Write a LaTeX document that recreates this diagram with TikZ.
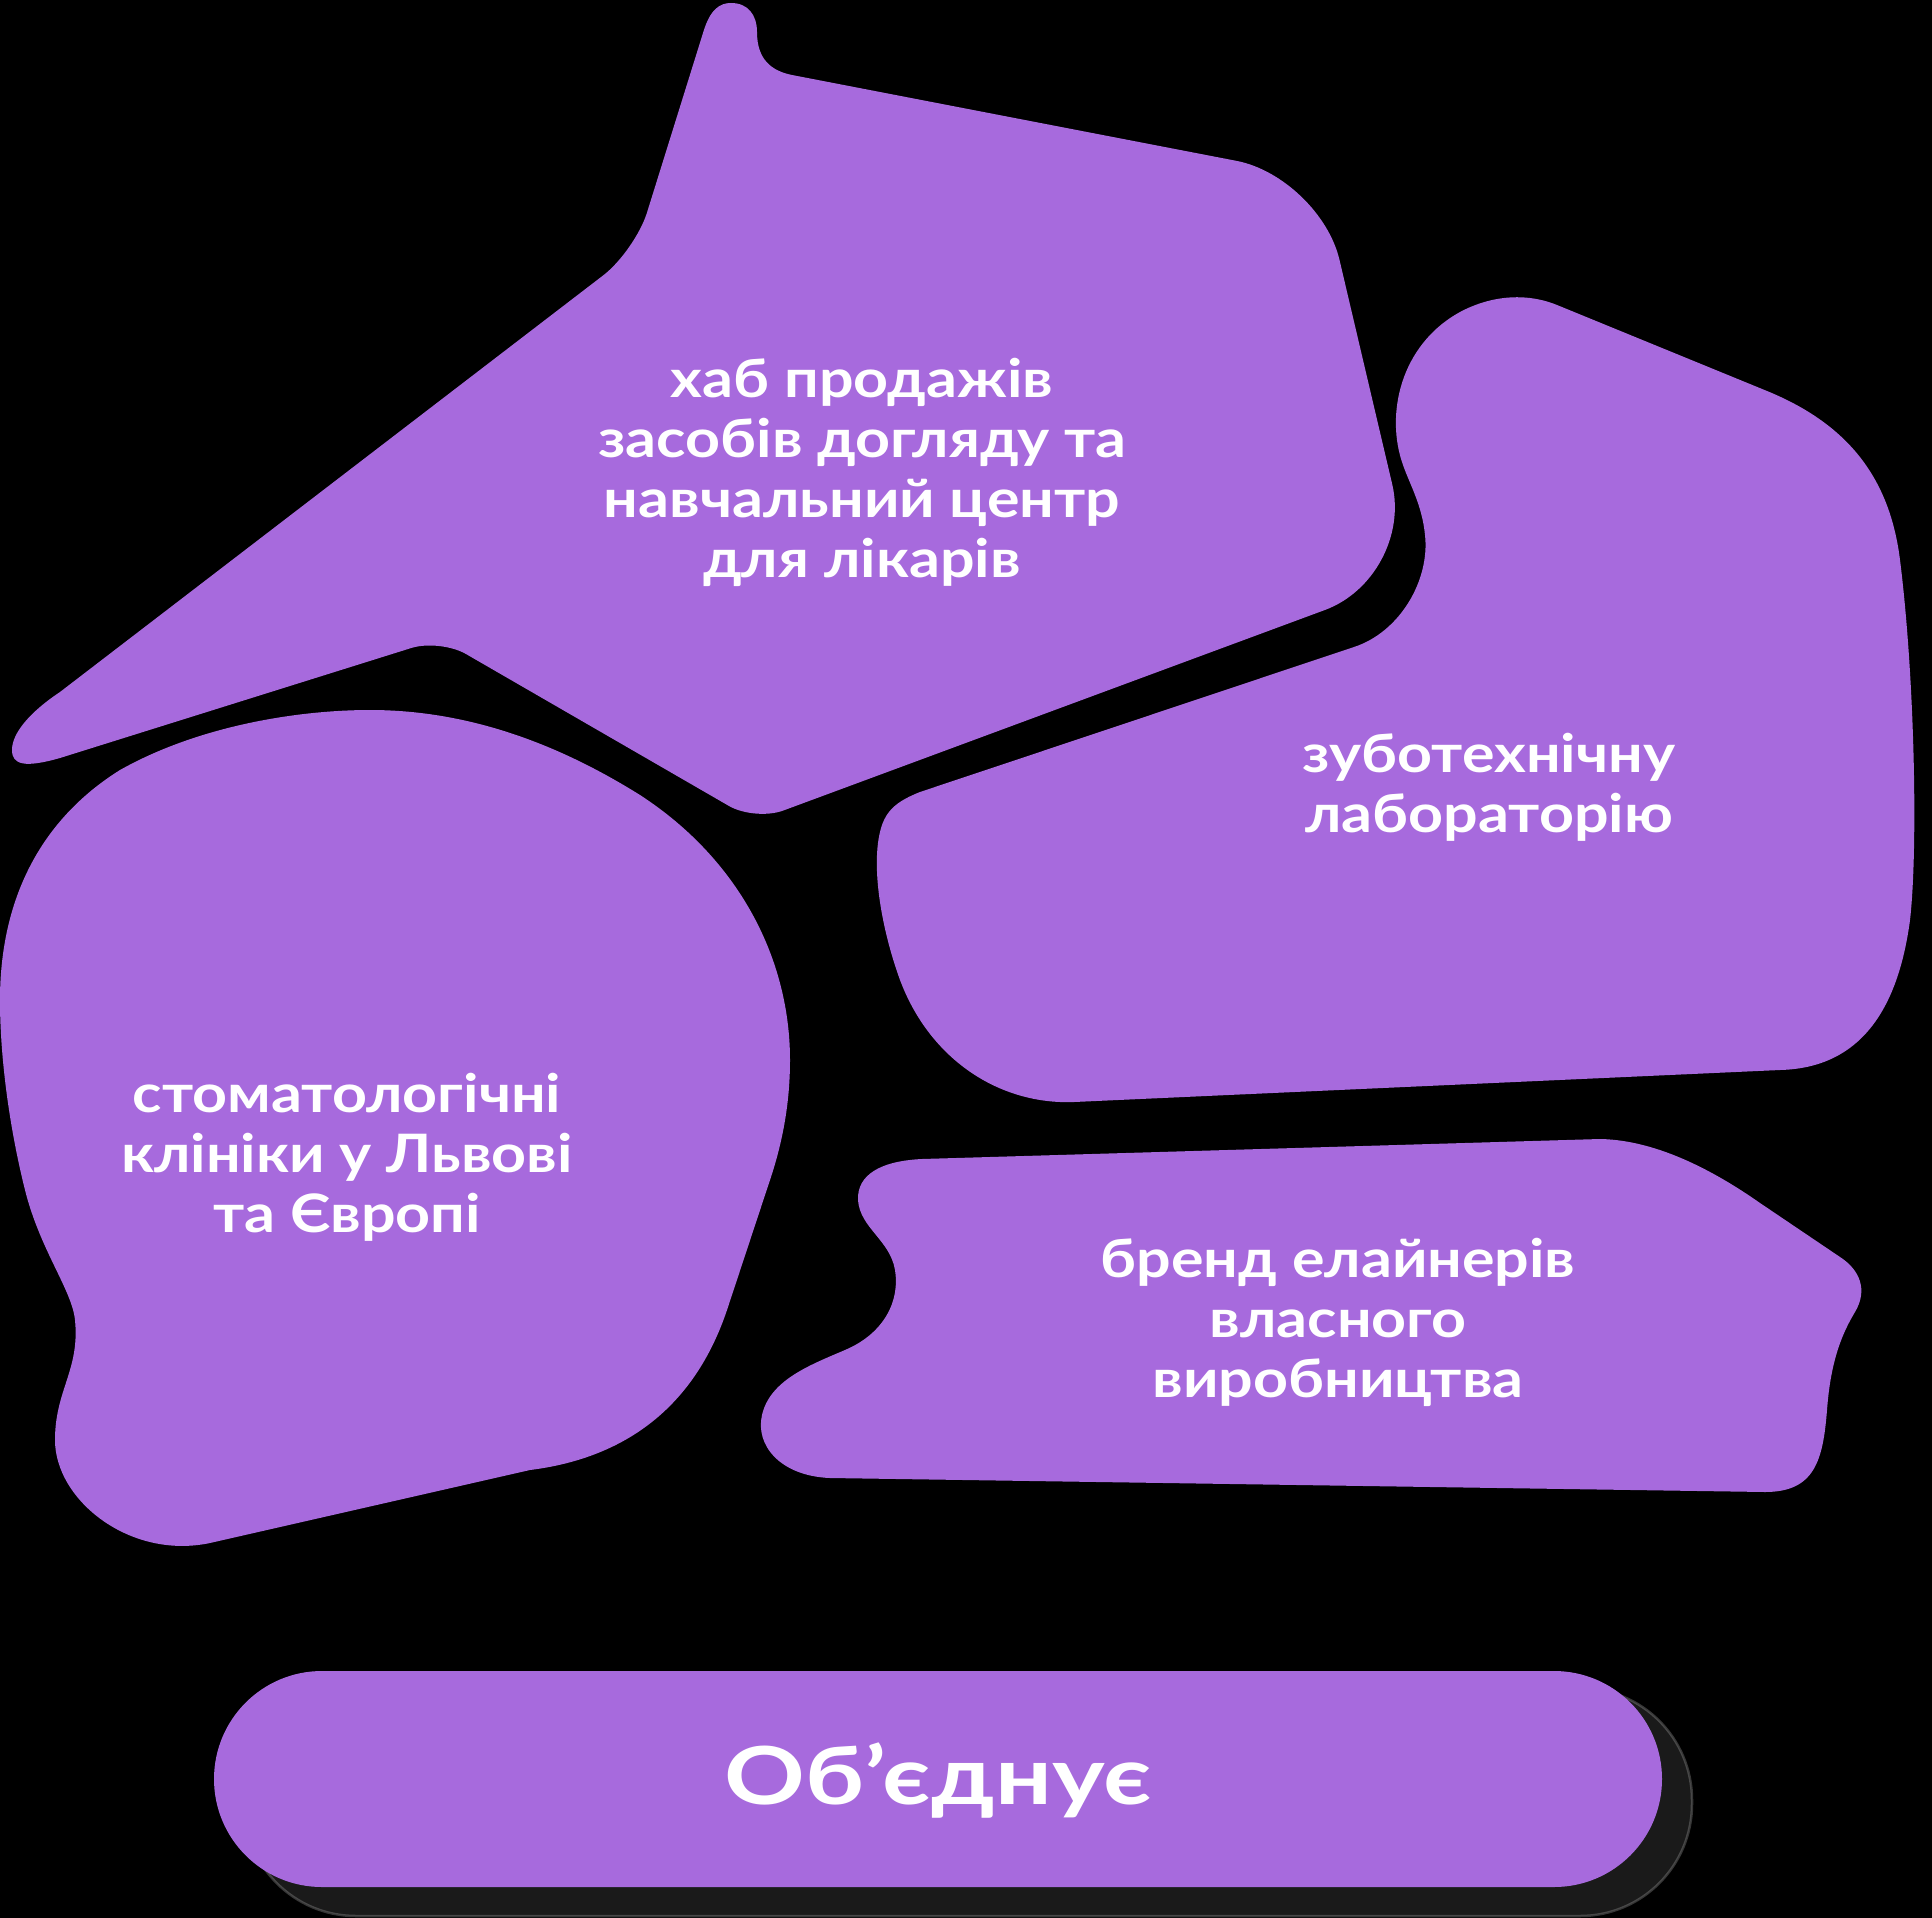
\documentclass[tikz,border=0pt]{standalone}
\usepackage{fontspec}
\setmainfont{Lato}
\newfontfamily\labelfont{Lato}[FakeStretch=1.15]
\newfontfamily\bigfont{Lato}[FakeStretch=1.25]
\usetikzlibrary{calc}
\definecolor{blob}{RGB}{167,106,221}
\definecolor{shadowc}{RGB}{26,26,26}
\newcommand\mycorner[4]{-- ($(#2)!#4pt!(#1)$) .. controls ($(#2)!0.45*#4pt!(#1)$) and ($(#2)!0.45*#4pt!(#3)$) .. ($(#2)!#4pt!(#3)$)}
\tikzset{
  blobfill/.style={fill=blob},
  label/.style={text=white, align=center, font=\labelfont\bfseries\fontsize{53}{60}\selectfont, inner sep=0pt},
  biglabel/.style={text=white, align=center, font=\bigfont\bfseries\fontsize{80}{86}\selectfont, inner sep=0pt}
}
\begin{document}
\begin{tikzpicture}[x=1pt,y=-1pt]
\useasboundingbox (0,0) rectangle (1932,1918);
\fill[black] (0,0) rectangle (1932,1918);

% shape 1: hub
\fill[blobfill] (703,33) .. controls (710,9) and (720,3) .. (731,3)
  .. controls (748,3) and (757,15) .. (757,32)
  .. controls (757,60) and (772,71) .. (792,75)
  \mycorner{792,75}{1320,177}{1414,577}{85}
  \mycorner{1320,177}{1414,577}{755,821}{95}
  \mycorner{1414,577}{755,821}{440,639}{30}
  \mycorner{755,821}{440,639}{60,758}{30}
  -- (60,758) .. controls (25,768) and (12,765) .. (12,750)
  .. controls (12,733) and (30,712) .. (60,692)
  \mycorner{60,692}{635,251}{703,33}{40}
  -- cycle;

% shape 3: lab
\fill[blobfill] (1557,305) -- (1767,391)
  .. controls (1850,425) and (1890,480) .. (1900,560)
  .. controls (1915,680) and (1918,850) .. (1910,920)
  .. controls (1898,1010) and (1860,1068) .. (1780,1070)
  -- (1074,1102)
  .. controls (1000,1105) and (930,1060) .. (900,980)
  .. controls (880,925) and (870,860) .. (882,825)
  .. controls (888,808) and (900,800) .. (920,792)
  -- (1354,647)
  .. controls (1400,632) and (1430,580) .. (1425,535)
  .. controls (1422,505) and (1410,485) .. (1403,465)
  .. controls (1385,415) and (1400,345) .. (1460,312)
  .. controls (1490,296) and (1525,292) .. (1557,305) -- cycle;

% shape 4: clinics
\fill[blobfill] (0,1000) .. controls (0,900) and (40,820) .. (120,770)
  .. controls (200,725) and (300,710) .. (370,710)
  .. controls (470,710) and (560,745) .. (640,795)
  .. controls (740,860) and (790,960) .. (790,1060)
  .. controls (790,1110) and (780,1150) .. (770,1180)
  -- (727,1310)
  .. controls (690,1420) and (610,1460) .. (530,1470)
  -- (210,1543)
  .. controls (130,1560) and (55,1500) .. (55,1440)
  .. controls (55,1390) and (80,1370) .. (75,1320)
  .. controls (72,1290) and (40,1250) .. (25,1190)
  .. controls (10,1130) and (0,1060) .. (0,1000) -- cycle;

% shape 5: brand
\fill[blobfill] (922,1159) -- (1600,1139)
  .. controls (1660,1140) and (1720,1175) .. (1760,1203)
  -- (1840,1257)
  .. controls (1860,1270) and (1868,1290) .. (1855,1312)
  .. controls (1838,1340) and (1830,1370) .. (1827,1410)
  .. controls (1823,1460) and (1815,1492) .. (1765,1492)
  -- (830,1478)
  .. controls (780,1476) and (755,1445) .. (762,1415)
  .. controls (770,1380) and (810,1365) .. (845,1350)
  .. controls (885,1333) and (900,1300) .. (895,1270)
  .. controls (890,1240) and (860,1228) .. (858,1200)
  .. controls (857,1175) and (880,1161) .. (922,1159) -- cycle;

% pill with shadow
\fill[shadowc, rounded corners=112] (244,1688) rectangle (1692,1916);
\draw[gray!60, line width=2.5, opacity=0.3, rounded corners=112] (244,1688) rectangle (1692,1916);
\fill[blobfill, rounded corners=108] (214,1671) rectangle (1662,1887);

\node[label] (hub) at (862,472) {хаб продажів\\засобів догляду та\\навчальний центр\\для лікарів};
\node[label] (lab) at (1489,787) {зуботехнічну\\лабораторію};
\node[label] (clinic) at (347,1157) {стоматологічні\\клініки у Львові\\та Європі};
\node[label] (brand) at (1338,1322) {бренд елайнерів\\власного\\виробництва};
\node[biglabel] (unites) at (938,1780) {Об’єднує};
\end{tikzpicture}
\end{document}
